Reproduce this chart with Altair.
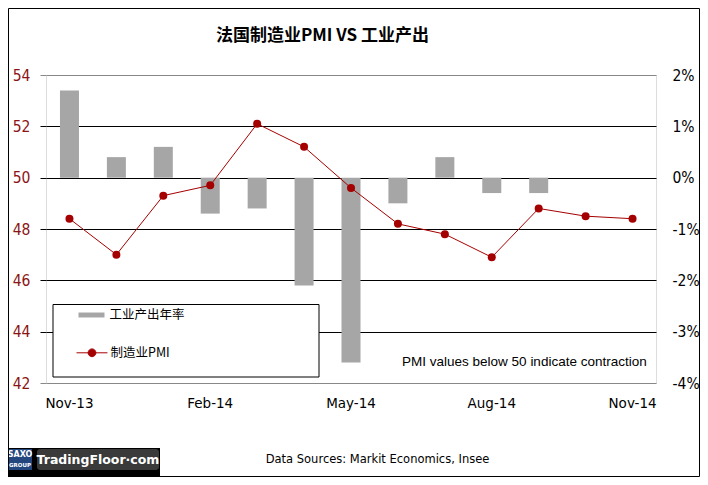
import altair as alt
import pandas as pd

months = ["Nov-13", "Dec-13", "Jan-14", "Feb-14", "Mar-14", "Apr-14", "May-14",
          "Jun-14", "Jul-14", "Aug-14", "Sep-14", "Oct-14", "Nov-14"]
ip_yoy = [1.7, 0.4, 0.6, -0.7, -0.6, -2.1, -3.6, -0.5, 0.4, -0.3, -0.3, None, None]
pmi = [48.4, 47.0, 49.3, 49.7, 52.1, 51.2, 49.6, 48.2, 47.8, 46.9, 48.8, 48.5, 48.4]
shown_labels = ["Nov-13", "Feb-14", "May-14", "Aug-14", "Nov-14"]
left_ticks = [42, 44, 46, 48, 50, 52, 54]
right_ticks = [-4, -3, -2, -1, 0, 1, 2]
ip_name = "工业产出年率"
pmi_name = "制造业PMI"
title_text = "法国制造业PMI VS 工业产出"
note_text = "PMI values below 50 indicate contraction"
source_text = "Data Sources: Markit Economics,  Insee"
logo_text = "TradingFloor·com"

BAR = "#A6A6A6"
RED = "#A50000"
AXRED = "#8B1414"
NARROW = "Liberation Sans Narrow, DejaVu Sans Condensed, Liberation Sans, sans-serif"
CJK = "Noto Sans CJK SC"

df = pd.DataFrame({"month": months, "ip": ip_yoy, "pmi": pmi,
                   "ip_s": [ip_name] * len(months), "pmi_s": [pmi_name] * len(months)})
one = pd.DataFrame({"k": [0]})

xenc = alt.X("month:N", sort=months, title=None,
             scale=alt.Scale(paddingInner=0, paddingOuter=0),
             axis=alt.Axis(values=shown_labels, labelAngle=0, ticks=False, domain=False,
                           grid=False, labelFont="DejaVu Sans", labelFontSize=13.5,
                           labelColor="black", labelPadding=13))

grid_cond = alt.condition("datum.value == 42 || datum.value == 54",
                          alt.value("#888888"), alt.value("#000000"))

bars = alt.Chart(df).mark_bar(size=19).encode(
    x=xenc,
    y=alt.Y("ip:Q", title=None, scale=alt.Scale(domain=[-4, 2], nice=False),
            axis=alt.Axis(orient="right", values=right_ticks, labelExpr="datum.value + '%'",
                          grid=False, ticks=False, domain=False, labelPadding=16,
                          labelFont=NARROW, labelFontSize=15.5, labelColor="black")),
    color=alt.Color("ip_s:N", scale=alt.Scale(domain=[ip_name], range=[BAR]),
                    legend=alt.Legend(orient="none", legendX=32.5, legendY=227, title=None,
                                      symbolType="M-1,-0.19H1V0.19H-1Z", symbolSize=676,
                                      symbolStrokeWidth=0, symbolOpacity=1,
                                      labelFont=CJK, labelFontSize=12.5, labelColor="black",
                                      labelOffset=5, padding=0)),
)

yl = alt.Y("pmi:Q", title=None, scale=alt.Scale(domain=[42, 54], nice=False, zero=False),
           axis=alt.Axis(orient="left", values=left_ticks, grid=True, gridColor=grid_cond,
                         gridWidth=1, tickColor=grid_cond, tickSize=6, domain=False,
                         labelPadding=10, labelFont=NARROW, labelFontSize=15.5,
                         labelColor=AXRED))

line = alt.Chart(df).mark_line(color=RED, strokeWidth=1).encode(x=xenc, y=yl)
points = alt.Chart(df).mark_circle(size=64, opacity=1).encode(
    x=xenc, y=yl,
    color=alt.Color("pmi_s:N", scale=alt.Scale(domain=[pmi_name], range=[RED]),
                    legend=alt.Legend(orient="none", legendX=32.5, legendY=264.3, title=None,
                                      symbolType="M-1.19,0H1.19M0.3,0A0.3,0.3,0,1,1,-0.3,0A0.3,0.3,0,1,1,0.3,0Z",
                                      symbolSize=676, symbolStrokeColor=RED,
                                      symbolStrokeWidth=1, symbolOpacity=1,
                                      labelFont=CJK, labelFontSize=12.5, labelColor="black",
                                      labelOffset=5, padding=0)),
)
pmi_layer = alt.layer(line, points)

box = alt.Chart(one).mark_rect(fill="white", stroke="black", strokeWidth=1).encode(
    x=alt.value(7), x2=alt.value(273), y=alt.value(229.5), y2=alt.value(302))

title = alt.Chart(one).mark_text(align="center", baseline="middle", font=CJK,
                                 fontSize=17, fontWeight="bold", color="black").encode(
    x=alt.value(276.5), y=alt.value(-39.5), text=alt.value(title_text))

note = alt.Chart(one).mark_text(align="right", baseline="middle", font="Liberation Sans",
                                fontSize=13.5, color="black").encode(
    x=alt.value(600.7), y=alt.value(286.7), text=alt.value(note_text))

source = alt.Chart(one).mark_text(align="center", baseline="middle", font="DejaVu Sans",
                                  fontSize=11.5, color="black").encode(
    x=alt.value(331.5), y=alt.value(385), text=alt.value(source_text))

logo_bg = alt.Chart(one).mark_rect(fill="black").encode(
    x=alt.value(-38), x2=alt.value(114), y=alt.value(373), y2=alt.value(402))
saxo_box = alt.Chart(one).mark_rect(fill="#24467F").encode(
    x=alt.value(-38), x2=alt.value(-14), y=alt.value(374), y2=alt.value(395))
saxo_t1 = alt.Chart(one).mark_text(align="center", baseline="middle", font="DejaVu Sans",
                                   fontSize=8, fontWeight="bold", color="white").encode(
    x=alt.value(-26), y=alt.value(380), text=alt.value("SAXO"))
saxo_t2 = alt.Chart(one).mark_text(align="center", baseline="middle", font="DejaVu Sans",
                                   fontSize=5.5, fontWeight="bold", color="white").encode(
    x=alt.value(-26), y=alt.value(390), text=alt.value("GROUP"))
tf_box = alt.Chart(one).mark_rect(fill="#3A3A3A", cornerRadius=3).encode(
    x=alt.value(-9), x2=alt.value(113), y=alt.value(374), y2=alt.value(395))
tf_text = alt.Chart(one).mark_text(align="center", baseline="middle", font="DejaVu Sans",
                                   fontSize=12.5, fontWeight="bold", color="white").encode(
    x=alt.value(52), y=alt.value(384.5), text=alt.value(logo_text))

frame = alt.Chart(one).mark_rect(fill="transparent", stroke="black", strokeWidth=1).encode(
    x=alt.value(-37.5), x2=alt.value(653.5), y=alt.value(-66.5), y2=alt.value(401.5))

chart = alt.layer(
    bars, box, pmi_layer, title, note, source, logo_bg, saxo_box, saxo_t1, saxo_t2,
    tf_box, tf_text, frame
).resolve_scale(
    y="independent", color="independent"
).properties(
    width=610, height=308,
    autosize=alt.AutoSizeParams(type="none"),
    padding={"left": 38, "top": 67, "right": 44, "bottom": 94},
).configure_view(
    stroke="#888888", strokeWidth=1
).configure(background="white")

chart.save("out.html", embed_options={"renderer": "svg", "actions": False})
